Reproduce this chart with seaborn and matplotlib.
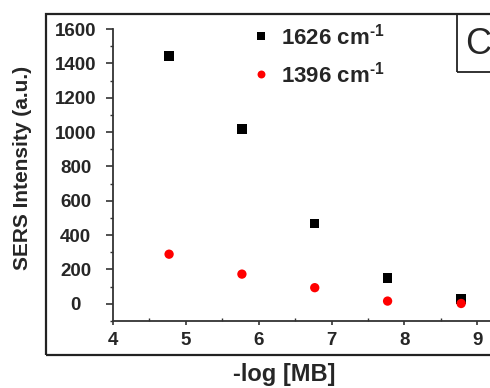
import numpy as np
import pandas as pd
import matplotlib
matplotlib.use("Agg")
import matplotlib.pyplot as plt
from matplotlib.patches import Rectangle
from matplotlib.ticker import MultipleLocator
import seaborn as sns

# ── data ───────────────────────────────────────────────────────────────────────
neg_log_mb   = [4.77, 5.77, 6.77, 7.77, 8.78]
band_1626    = [1443, 1018, 467, 150, 28]
band_1396    = [289, 173, 94, 16, 2]
series_names = ["1626 cm$^{\\text{-1}}$", "1396 cm$^{\\text{-1}}$"]

df = pd.DataFrame({
    "x": neg_log_mb * 2,
    "y": band_1626 + band_1396,
    "band": [series_names[0]] * 5 + [series_names[1]] * 5,
})

sns.set_style("ticks")
plt.rcParams["font.family"] = ["Liberation Sans", "DejaVu Sans"]
plt.rcParams["font.weight"] = "bold"
plt.rcParams["mathtext.fontset"] = "custom"
plt.rcParams["mathtext.rm"] = "Liberation Sans:bold"
plt.rcParams["mathtext.bf"] = "Liberation Sans:bold"

fig = plt.figure(figsize=(4.9, 3.88), dpi=100)
ax = fig.add_axes([113 / 490, 67 / 388, 437 / 490, 292 / 388])

sns.scatterplot(data=df, x="x", y="y", hue="band", style="band",
                palette={series_names[0]: "black", series_names[1]: "#ff0000"},
                markers={series_names[0]: "s", series_names[1]: "o"},
                s=45, linewidth=0, ax=ax)

ax.set_xlim(4, 10)
ax.set_ylim(-100, 1600)
ax.set_xticks(range(4, 10))
ax.set_yticks(range(0, 1601, 200))
ax.xaxis.set_minor_locator(MultipleLocator(0.5))
ax.yaxis.set_minor_locator(MultipleLocator(100))
ax.tick_params(axis="y", which="major", length=5, width=1.2, pad=22,
               labelsize=13.5, color="#333333")
ax.tick_params(axis="y", which="minor", length=2.5, width=1.0, color="#333333")
ax.tick_params(axis="x", which="major", length=3, width=1.2, pad=5,
               labelsize=13.5, color="#333333")
ax.tick_params(axis="x", which="minor", length=2.5, width=1.0,
               direction="in", color="#333333")
for lab in ax.get_xticklabels() + ax.get_yticklabels():
    lab.set_fontweight("bold")
for lab in ax.get_yticklabels():
    lab.set_ha("center")
sns.despine(ax=ax)
for s in ("left", "bottom"):
    ax.spines[s].set_linewidth(1.3)
    ax.spines[s].set_color("#333333")
ax.set_xlabel("")
ax.set_ylabel("")

leg = ax.legend(loc="upper left", bbox_to_anchor=(228 / 490, 1 - 12 / 388),
                bbox_transform=fig.transFigure, frameon=False,
                fontsize=16, handletextpad=-0.1, labelspacing=0.55,
                markerscale=0.85, borderpad=0)
for t in leg.get_texts():
    t.set_fontweight("bold")

fig.text(284 / 490, 1 - 375 / 388, "-log [MB]", ha="center", va="center",
         fontsize=17, fontweight="bold")
fig.text(23 / 490, 1 - 168 / 388, "SERS Intensity (a.u.)", ha="center",
         va="center", rotation=90, fontsize=15, fontweight="bold")

# outer frame and the panel-letter box, both cut by the right edge
fig.patches.append(Rectangle((46 / 490, 1 - 355 / 388), 1.0, 341 / 388,
                             transform=fig.transFigure, fill=False,
                             lw=1.6, ec="#222222"))
fig.patches.append(Rectangle((457 / 490, 1 - 72 / 388), 0.2, 58 / 388,
                             transform=fig.transFigure, fill=False,
                             lw=1.3, ec="#222222"))
fig.text(465 / 490, 1 - 44 / 388, "C", ha="left", va="center",
         fontsize=26, fontweight="normal")

fig.savefig("out.png", dpi=100)
